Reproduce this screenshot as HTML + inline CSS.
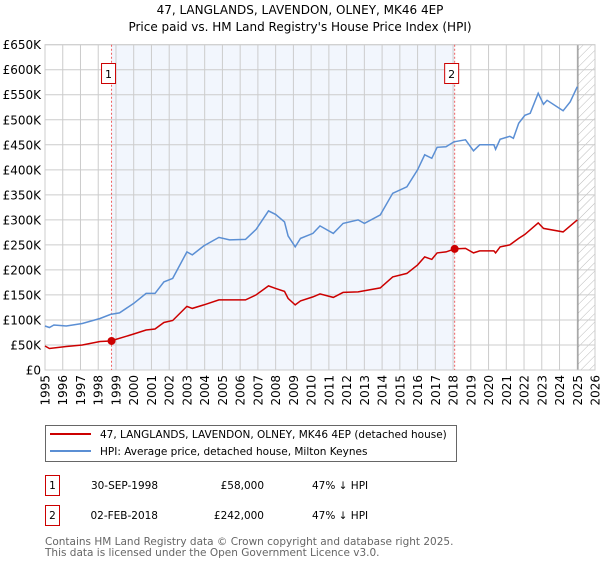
<!DOCTYPE html>
<html><head><meta charset="utf-8"><style>
body{margin:0;background:#fff;width:600px;height:560px;overflow:hidden;font-family:"DejaVu Sans","Liberation Sans",sans-serif}
svg text{font-family:"DejaVu Sans","Liberation Sans",sans-serif}
</style></head><body>
<svg id="chart" width="600" height="560" xmlns="http://www.w3.org/2000/svg">
<defs><pattern id="hatch" width="6" height="6" patternUnits="userSpaceOnUse" patternTransform="rotate(45)"><line x1="0" y1="0" x2="0" y2="6" stroke="#bbb" stroke-width="1"/></pattern></defs>
<text x="300" y="14" text-anchor="middle" font-size="12">47, LANGLANDS, LAVENDON, OLNEY, MK46 4EP</text>
<text x="300" y="31" text-anchor="middle" font-size="12">Price paid vs. HM Land Registry's House Price Index (HPI)</text>
<g id="plot"></g>
<g>
<rect x="45.5" y="425.5" width="411" height="36" fill="#fff" stroke="#666"/>
<line x1="50" y1="434" x2="91" y2="434" stroke="#cc0000" stroke-width="2"/>
<text x="100" y="438" font-size="10.5">47, LANGLANDS, LAVENDON, OLNEY, MK46 4EP (detached house)</text>
<line x1="50" y1="451" x2="91" y2="451" stroke="#5b8fd4" stroke-width="2"/>
<text x="100" y="455" font-size="10.5">HPI: Average price, detached house, Milton Keynes</text>
</g>
<g font-size="10.5">
<rect x="45.5" y="475.5" width="14" height="20" fill="#fff" stroke="#cc0000"/>
<text x="52.5" y="489" text-anchor="middle">1</text>
<text x="158" y="489" text-anchor="end">30-SEP-1998</text>
<text x="264" y="489" text-anchor="end">£58,000</text>
<text x="312" y="489">47% ↓ HPI</text>
<rect x="45.5" y="505.5" width="14" height="20" fill="#fff" stroke="#cc0000"/>
<text x="52.5" y="519" text-anchor="middle">2</text>
<text x="158" y="519" text-anchor="end">02-FEB-2018</text>
<text x="264" y="519" text-anchor="end">£242,000</text>
<text x="312" y="519">47% ↓ HPI</text>
</g>
<text x="45" y="545" font-size="10.5" fill="#666">Contains HM Land Registry data © Crown copyright and database right 2025.</text>
<text x="45" y="556" font-size="10.5" fill="#666">This data is licensed under the Open Government Licence v3.0.</text>
</svg>
<script>
const yTicks=[0,50,100,150,200,250,300,350,400,450,500,550,600,650];
const yearTicks=[1995,1996,1997,1998,1999,2000,2001,2002,2003,2004,2005,2006,2007,2008,2009,2010,2011,2012,2013,2014,2015,2016,2017,2018,2019,2020,2021,2022,2023,2024,2025,2026];
const hpiYears=[1995,1995.25,1995.5,1996.2,1997.1,1998.1,1998.7,1999.2,2000,2000.7,2001.2,2001.7,2002.2,2003,2003.3,2003.95,2004.8,2005.4,2006.3,2006.9,2007.6,2008,2008.5,2008.7,2009.1,2009.4,2010.1,2010.5,2011.25,2011.8,2012.65,2013,2013.9,2014.6,2015.4,2016,2016.4,2016.8,2017.1,2017.6,2018.05,2018.7,2019.15,2019.5,2020.3,2020.4,2020.65,2021.2,2021.4,2021.7,2022.05,2022.35,2022.8,2023.1,2023.3,2024.2,2024.6,2025];
const hpiValues=[88,85,90,88,93,103,111,114,133,153,153,176,183,236,230,248,265,260,261,281,318,311,296,268,246,263,273,288,273,293,300,293,310,353,366,400,430,423,445,446,456,460,438,450,450,441,461,467,463,493,509,513,553,531,539,518,536,566];
const priceYears=[1995,1995.25,1996.2,1997.1,1998.1,1998.7,2000,2000.7,2001.2,2001.7,2002.2,2003,2003.3,2003.95,2004.8,2005.4,2006.3,2006.9,2007.6,2008,2008.5,2008.7,2009.1,2009.4,2010.1,2010.5,2011.25,2011.8,2012.65,2013.9,2014.6,2015.4,2016,2016.4,2016.8,2017.1,2017.6,2018.09,2018.7,2019.15,2019.5,2020.3,2020.4,2020.65,2021.2,2021.7,2022.05,2022.8,2023.1,2024.2,2025];
const priceValues=[48,43,47,50,57,58,72,80,82,95,99,127,123,130,140,140,140,150,168,163,157,143,130,138,146,152,145,155,156,164,186,193,210,226,221,234,236,242,243,234,238,238,234,246,250,263,271,294,283,276,300];
const saleYears=[1998.75,2018.09];
const saleValues=[58,242];
const saleLabels=["1","2"];
const X0=45,X1=595,Y0=370,Y1=44.7;
const xs=y=>X0+(y-1995)/(2026-1995)*(X1-X0);
const ys=v=>Y0-v/650*(Y0-Y1);
const NS="http://www.w3.org/2000/svg";
const g=document.getElementById('plot');
function mk(t,a){const e=document.createElementNS(NS,t);for(const k in a)e.setAttribute(k,a[k]);g.appendChild(e);return e;}
let e;
e=mk('rect',{x:xs(saleYears[0]),y:Y1,width:xs(saleYears[1])-xs(saleYears[0]),height:Y0-Y1,fill:'#f2f6fd'});


e=mk('rect',{x:xs(2025.04),y:Y1,width:X1-xs(2025.04),height:Y0-Y1,fill:'url(#hatch)'});


yTicks.forEach(v=>{
 e=mk('line',{x1:X0,x2:X1,y1:ys(v),y2:ys(v),stroke:'#ccc','stroke-width':1});
 
 
 e=mk('text',{x:X0-4,y:ys(v)+4.5,'text-anchor':'end','font-size':'12'});
 e.textContent=v===0?'£0':'£'+v+'K';
 
 
});
yearTicks.forEach(yr=>{
 e=mk('line',{x1:xs(yr),x2:xs(yr),y1:Y1,y2:Y0,stroke:'#ccc','stroke-width':1});
 
 
 e=mk('text',{x:0,y:0,'text-anchor':'end','font-size':'12',transform:`translate(${xs(yr)+4.5},${Y0+5}) rotate(-90)`});
 e.textContent=yr;
 
 
});
e=mk('line',{x1:xs(2025.04),x2:xs(2025.04),y1:Y1,y2:Y0,stroke:'#888','stroke-width':1});


e=mk('rect',{x:X0,y:Y1,width:X1-X0,height:Y0-Y1,fill:'none',stroke:'#ccc'});


saleYears.forEach((yr,i)=>{
 e=mk('line',{x1:xs(yr),x2:xs(yr),y1:Y1,y2:Y0,stroke:'#f06060','stroke-width':1,'stroke-dasharray':'2,2'});
 
 
});
e=mk('path',{d:hpiYears.map((y,i)=>(i?'L':'M')+xs(y).toFixed(1)+','+ys(hpiValues[i]).toFixed(1)).join(''),fill:'none',stroke:'#5b8fd4','stroke-width':1.5});


e=mk('path',{d:priceYears.map((y,i)=>(i?'L':'M')+xs(y).toFixed(1)+','+ys(priceValues[i]).toFixed(1)).join(''),fill:'none',stroke:'#cc0000','stroke-width':1.5});


saleYears.forEach((yr,i)=>{
 e=mk('circle',{cx:xs(yr),cy:ys(saleValues[i]),r:4,fill:'#cc0000'});
 
 
 e=mk('rect',{x:xs(yr)-10,y:63.5,width:14,height:20,fill:'#fff',stroke:'#cc0000'});
 
 
 e=mk('text',{x:xs(yr)-3,y:78,'text-anchor':'middle','font-size':'11'});
 e.textContent=saleLabels[i];
 
 
});
</script>
</body></html>
